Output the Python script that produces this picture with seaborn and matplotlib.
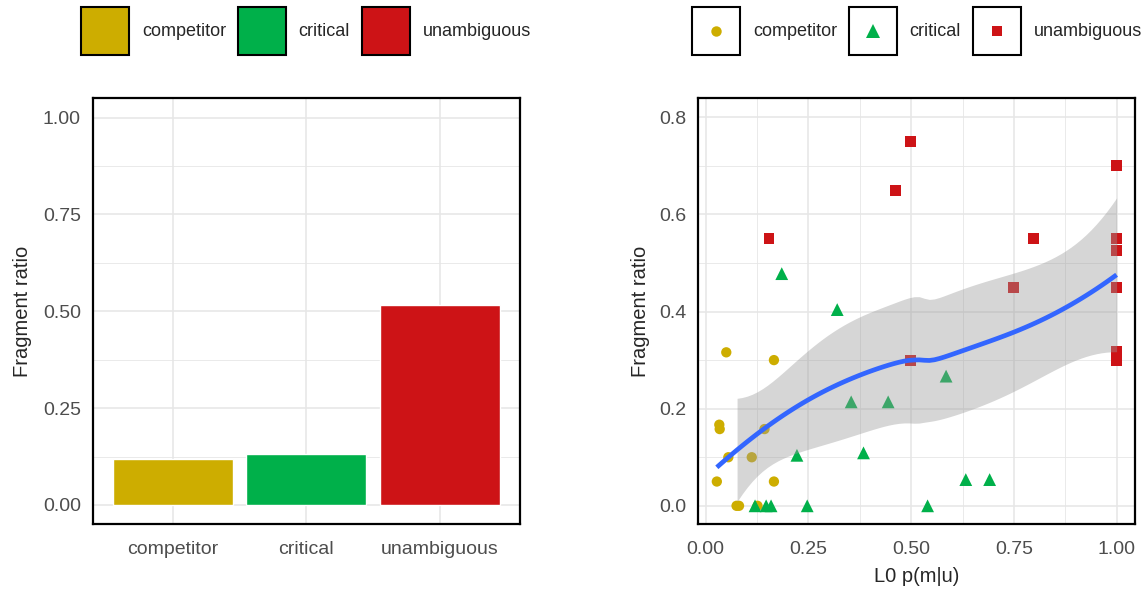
import numpy as np
import pandas as pd
import matplotlib
matplotlib.use("Agg")
import matplotlib.pyplot as plt
import seaborn as sns
from matplotlib.patches import Patch, Rectangle
from matplotlib.lines import Line2D
from matplotlib.legend_handler import HandlerBase
from matplotlib.ticker import MultipleLocator, FormatStrFormatter


# DATA

conditions = ["competitor", "critical", "unambiguous"]
mean_ratio = [0.118, 0.132, 0.517]

competitor_x = [0.050, 0.166, 0.033, 0.034, 0.143, 0.055, 0.112, 0.027, 0.166, 0.075, 0.081, 0.126]
competitor_y = [0.316, 0.300, 0.167, 0.158, 0.158, 0.100, 0.100, 0.050, 0.050, 0.000, 0.000, 0.000]

critical_x = [0.185, 0.320, 0.354, 0.444, 0.222, 0.384, 0.120, 0.147, 0.159, 0.247, 0.585, 0.633, 0.691, 0.540]
critical_y = [0.478, 0.404, 0.214, 0.214, 0.104, 0.109, 0.000, 0.000, 0.000, 0.000, 0.267, 0.054, 0.054, 0.000]

unambiguous_x = [0.154, 0.462, 0.498, 0.498, 1.000, 0.798, 1.000, 1.000, 0.750, 1.000, 1.000, 1.000]
unambiguous_y = [0.550, 0.650, 0.750, 0.300, 0.700, 0.550, 0.550, 0.526, 0.450, 0.450, 0.317, 0.300]

colors = {"competitor": "#CDAD00", "critical": "#00B04A", "unambiguous": "#CD1316"}
markers = {"competitor": "o", "critical": "^", "unambiguous": "s"}
marker_sizes = {"competitor": 55, "critical": 85, "unambiguous": 62}

points = pd.concat([
    pd.DataFrame({"x": competitor_x, "y": competitor_y, "condition": "competitor"}),
    pd.DataFrame({"x": critical_x, "y": critical_y, "condition": "critical"}),
    pd.DataFrame({"x": unambiguous_x, "y": unambiguous_y, "condition": "unambiguous"}),
], ignore_index=True)


# LOESS (local quadratic) with 95% band, like geom_smooth

SPAN = 1.0


def loess_rows(x, x_eval, span=SPAN):
    n = len(x)
    q = int(np.floor(n * span))
    rows = []
    for x0 in x_eval:
        d = np.abs(x - x0)
        h = np.sort(d)[q - 1]
        w = np.clip(1 - (d / h) ** 3, 0, None) ** 3
        X = np.column_stack([np.ones(n), x - x0, (x - x0) ** 2])
        XtW = X.T * w
        rows.append(np.linalg.solve(XtW @ X, XtW)[0])
    return np.array(rows)


def loess_band(x, y, n_grid=80):
    x = np.asarray(x, float)
    y = np.asarray(y, float)
    grid = np.linspace(x.min(), x.max(), n_grid)

    L_data = loess_rows(x, x)
    resid = y - L_data @ y
    M = np.eye(len(x)) - L_data
    MtM = M.T @ M
    delta1 = np.trace(MtM)
    delta2 = np.trace(MtM @ MtM)
    sigma = np.sqrt(np.sum(resid ** 2) / delta1)
    df = delta1 ** 2 / delta2

    z = 1.959964
    t = z + (z ** 3 + z) / (4 * df) + (5 * z ** 5 + 16 * z ** 3 + 3 * z) / (96 * df ** 2)

    L_grid = loess_rows(x, grid)
    fit = L_grid @ y
    se = sigma * np.sqrt(np.sum(L_grid ** 2, axis=1))
    return grid, fit, fit - t * se, fit + t * se


# legend key: framed white box with the marker in the middle
class FramedMarker(HandlerBase):
    def create_artists(self, legend, orig_handle, xdescent, ydescent,
                       width, height, fontsize, trans):
        box = Rectangle((-xdescent, -ydescent), width, height, facecolor="white",
                        edgecolor="black", linewidth=1.5, transform=trans)
        dot = Line2D([width / 2 - xdescent], [height / 2 - ydescent], linestyle="",
                     marker=orig_handle.get_marker(), color=orig_handle.get_color(),
                     markersize=orig_handle.get_markersize(), markeredgewidth=0,
                     transform=trans)
        return [box, dot]


# STYLE

sns.set_style("white")
plt.rcParams["font.family"] = ["Liberation Sans", "DejaVu Sans"]

GRID = "#E6E6E6"
TICK_TEXT = "#4D4D4D"


def style_axes(ax):
    for s in ax.spines.values():
        s.set_color("black")
        s.set_linewidth(1.6)
    ax.tick_params(which="major", length=3.4, width=1.3, color="#333333",
                   labelsize=14, labelcolor=TICK_TEXT)
    ax.tick_params(axis="y", pad=5)
    ax.tick_params(axis="x", pad=9)
    ax.tick_params(which="minor", length=0)
    ax.grid(True, which="major", color=GRID, linewidth=1.1)
    ax.grid(True, which="minor", color=GRID, linewidth=0.6)
    ax.set_axisbelow(True)


fig = plt.figure(figsize=(11.44, 5.9), dpi=100)
ax1 = fig.add_axes([0.0810, 0.1114, 0.3735, 0.7220])
ax2 = fig.add_axes([0.6099, 0.1114, 0.3823, 0.7220])


# LEFT: bar chart

sns.barplot(x=conditions, y=mean_ratio, hue=conditions, palette=colors,
            width=0.9, saturation=1, legend=False, ax=ax1)
ax1.set_xlim(-0.6, 2.6)
ax1.set_ylim(-0.05, 1.05)
ax1.yaxis.set_major_locator(MultipleLocator(0.25))
ax1.yaxis.set_minor_locator(MultipleLocator(0.125))
ax1.yaxis.set_major_formatter(FormatStrFormatter("%.2f"))
style_axes(ax1)
ax1.grid(False, axis="x", which="minor")
ax1.set_xlabel("")
ax1.set_ylabel("Fragment ratio", fontsize=14.5, labelpad=8)


# RIGHT: scatter + smooth

sns.scatterplot(data=points, x="x", y="y", hue="condition", style="condition",
                palette=colors, markers=markers, s=60, linewidth=0,
                legend=False, ax=ax2, zorder=2)
ax2.collections[0].set_sizes([marker_sizes[c] for c in points["condition"]])

grid, fit, lo, hi = loess_band(points["x"], points["y"])
# values outside the y scale limits (0 to 0.8) are dropped from the band
keep = (lo >= 0) & (hi <= 0.8)
ax2.fill_between(grid, np.where(keep, lo, np.nan), np.where(keep, hi, np.nan),
                 color="#999999", alpha=0.4, linewidth=0, zorder=3)
ax2.plot(grid, fit, color="#3366FF", linewidth=3.4, zorder=4, solid_capstyle="butt")

ax2.set_xlim(-0.0195, 1.045)
ax2.set_ylim(-0.038, 0.839)
ax2.xaxis.set_major_locator(MultipleLocator(0.25))
ax2.xaxis.set_minor_locator(MultipleLocator(0.125))
ax2.xaxis.set_major_formatter(FormatStrFormatter("%.2f"))
ax2.yaxis.set_major_locator(MultipleLocator(0.2))
ax2.yaxis.set_minor_locator(MultipleLocator(0.1))
ax2.yaxis.set_major_formatter(FormatStrFormatter("%.1f"))
style_axes(ax2)
ax2.set_xlabel("L0 p(m|u)", fontsize=14.5, labelpad=6)
ax2.set_ylabel("Fragment ratio", fontsize=14.5, labelpad=6.5)


# LEGENDS on top

legend_kw = dict(loc="center", ncol=3, frameon=False, fontsize=13,
                 handlelength=2.65, handleheight=3.75, handletextpad=0.72,
                 columnspacing=0.66, borderpad=0)

bar_handles = [Patch(facecolor=colors[c], edgecolor="black", linewidth=1.5) for c in conditions]
fig.legend(bar_handles, conditions, bbox_to_anchor=(306 / 1144, 1 - 31 / 590), **legend_kw)

pt_handles = [Line2D([], [], linestyle="", marker=markers[c], color=colors[c],
                     markersize=7.5 if c != "critical" else 9.5)
              for c in conditions]
fig.legend(pt_handles, conditions, bbox_to_anchor=(917 / 1144, 1 - 31 / 590),
           handler_map={Line2D: FramedMarker()}, **legend_kw)

plt.savefig("out.png", dpi=100)
plt.close()
